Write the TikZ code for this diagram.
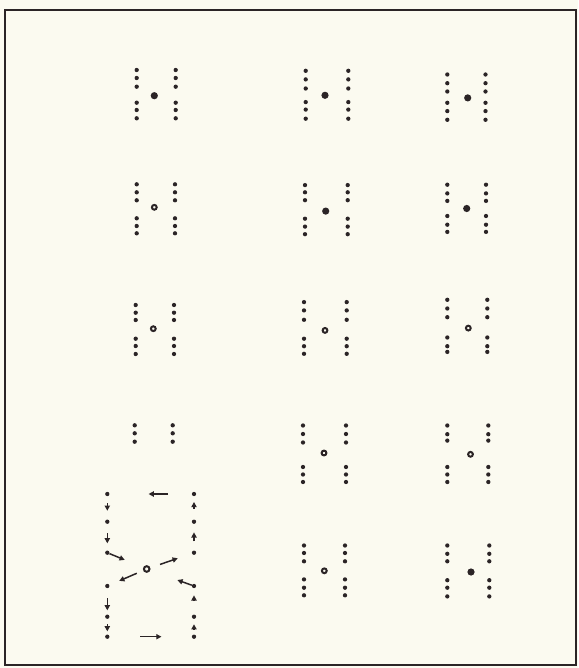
\documentclass[tikz,border=0pt]{standalone}
\usepackage{tikz}
\usetikzlibrary{arrows.meta}
\definecolor{paperCream}{HTML}{FBFAF0}
\definecolor{inkDark}{HTML}{2B2426}

% one pair of dotted columns, nodes <name>l<k> and <name>r<k>
\newcommand{\dotpair}[4]{%
  \foreach \yy [count=\k] in {#4} {
    \node[pip] (#1l\k) at (#2,\yy) {};
    \node[pip] (#1r\k) at (#3,\yy) {};
  }}

\begin{document}
\begin{tikzpicture}[
  x=1pt,y=-1pt,
  pip/.style={circle,fill=inkDark,inner sep=0pt,minimum size=4.3pt},
  hub/.style={circle,fill=inkDark,inner sep=0pt,minimum size=7.2pt},
  ring/.style={circle,draw=inkDark,line width=2pt,inner sep=0pt,minimum size=4.8pt},
  flow/.style={draw=inkDark,line width=1.5pt,-{Triangle[length=5.2pt,width=5.2pt]}}
]
  \fill[paperCream] (0,0) rectangle (578,668);
  \useasboundingbox (0,0) rectangle (578,668);
  \draw[inkDark,line width=1.8pt] (5,10) rectangle (576,665);

  % first column
  \dotpair{aa}{136.7}{175.7}{70,78,86.7,102.7,110,118.3}
  \node[hub] (aaH) at (154.3,95.7) {};
  \dotpair{ba}{136.7}{175}{184.3,192.3,200.3,218.3,226,233.3}
  \node[ring] (baH) at (154.3,207.3) {};
  \dotpair{ca}{135.7}{174}{305,312.7,320,338.7,346,354}
  \node[ring] (caH) at (153.3,328.7) {};
  \dotpair{da}{134.7}{172.7}{425.3,433.3,441.7}

  % second column
  \dotpair{ab}{305.7}{348.3}{70.8,79.4,88.5,102.1,109.6,118.7}
  \node[hub] (abH) at (325,95.3) {};
  \dotpair{bb}{305}{347.7}{185.1,192.3,200.2,218.7,226.6,234.2}
  \node[hub] (bbH) at (325.7,211.1) {};
  \dotpair{cb}{304}{346.7}{302.1,310.4,319.8,338.7,346.2,353.8}
  \node[ring] (cbH) at (325,330.4) {};
  \dotpair{db}{303}{346}{425.5,434,442.5,467,474.5,482}
  \node[ring] (dbH) at (324,453) {};
  \dotpair{eb}{304}{345}{545.5,553,561.3,579.4,587.7,595.3}
  \node[ring] (ebH) at (324.3,570.8) {};

  % third column
  \dotpair{ac}{447.3}{485.5}{74.5,83.2,91.5,102.8,111.1,119.8}
  \node[hub] (acH) at (467.7,97.9) {};
  \dotpair{bc}{447.3}{486}{184.7,193.4,200.9,216,224.7,231.9}
  \node[hub] (bcH) at (466.7,208.5) {};
  \dotpair{cc}{447.3}{487.3}{299.8,308.5,317.2,337.5,346.2,351.9}
  \node[ring] (ccH) at (468.3,328.1) {};
  \dotpair{dc}{447.3}{488.3}{425.5,434.2,440.6,467,474.5,482}
  \node[ring] (dcH) at (470.5,454.3) {};
  \dotpair{ec}{447.3}{489.3}{545.5,553.8,561.3,580.2,587.7,596.4}
  \node[hub] (ecH) at (471,572) {};

  % exchange cell with arrows
  \dotpair{ea}{107.3}{194}{494,521.7,552.7,586,616.7,636.7}
  \node[ring,minimum size=5.6pt,line width=2pt] (swap) at (146.7,569) {};

  \draw[flow,shorten <=7pt,shorten >=8.6pt] (eal1) -- (eal2);
  \draw[flow,shorten <=9pt,shorten >=7pt] (eal2) -- (eal3);
  \draw[flow,shorten <=10pt,shorten >=4pt] (eal4) -- (eal5);
  \draw[flow,shorten <=5.2pt,shorten >=3pt] (eal5) -- (eal6);
  \draw[flow,shorten <=10.6pt,shorten >=5.6pt] (ear2) -- (ear1);
  \draw[flow,shorten <=9pt,shorten >=8.3pt] (ear3) -- (ear2);
  \draw[flow,shorten <=13.3pt,shorten >=7pt] (ear5) -- (ear4);
  \draw[flow,shorten <=5pt,shorten >=5.2pt] (ear6) -- (ear5);

  \draw[flow,shorten <=23.6pt,shorten >=38.9pt] (ear1) -- (eal1);
  \draw[flow,shorten <=30.5pt,shorten >=30.2pt] (eal6) -- (ear6);

  \draw[flow,shorten >=20pt] (eal3) -- (swap);
  \draw[flow,shorten <=10.3pt,shorten >=14.8pt] (swap) -- (ear3);
  \draw[flow,shorten <=7pt,shorten >=10.6pt] (swap) -- (eal4);
  \draw[flow,shorten >=28.8pt] (ear4) -- (swap);
\end{tikzpicture}
\end{document}
